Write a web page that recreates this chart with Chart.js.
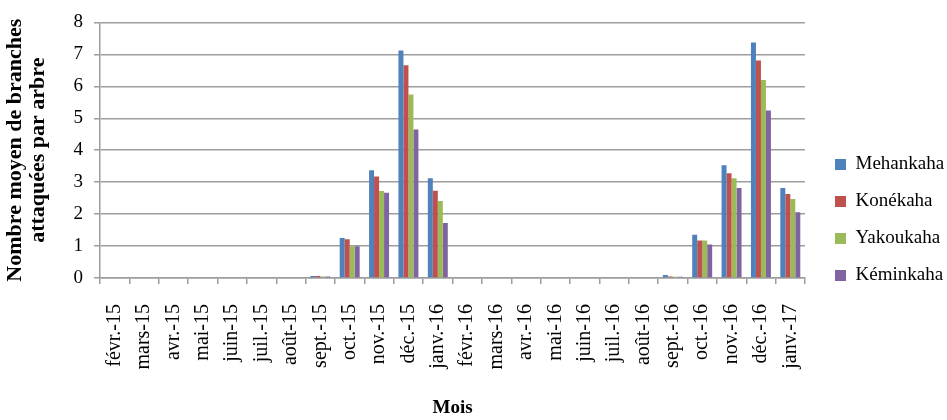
<!DOCTYPE html>
<html>
<head>
<meta charset="utf-8">
<script src="https://cdn.jsdelivr.net/npm/chart.js@4"></script>
<style>
  html, body { margin: 0; padding: 0; background: #fff; }
  #wrap { width: 947px; height: 420px; }
</style>
</head>
<body>
<div id="wrap"><canvas id="mainChart" width="947" height="420"></canvas></div>
<script>
// mois
const months = ['févr.-15', 'mars-15', 'avr.-15', 'mai-15', 'juin-15', 'juil.-15', 'août-15', 'sept.-15',
  'oct.-15', 'nov.-15', 'déc.-15', 'janv.-16', 'févr.-16', 'mars-16', 'avr.-16', 'mai-16', 'juin-16',
  'juil.-16', 'août-16', 'sept.-16', 'oct.-16', 'nov.-16', 'déc.-16', 'janv.-17'];

// nombre moyen de branches attaquées par arbre, par localité
const mehankaha = [0, 0, 0, 0, 0, 0, 0, 0.06, 1.25, 3.37, 7.12, 3.12, 0, 0, 0, 0, 0, 0, 0, 0.09, 1.35, 3.53, 7.37, 2.82];
const konekaha  = [0, 0, 0, 0, 0, 0, 0, 0.06, 1.21, 3.18, 6.66, 2.73, 0, 0, 0, 0, 0, 0, 0, 0.05, 1.17, 3.28, 6.81, 2.63];
const yakoukaha = [0, 0, 0, 0, 0, 0, 0, 0.05, 0.99, 2.72, 5.74, 2.41, 0, 0, 0, 0, 0, 0, 0, 0.04, 1.17, 3.12, 6.20, 2.47];
const keminkaha = [0, 0, 0, 0, 0, 0, 0, 0.05, 0.99, 2.67, 4.65, 1.72, 0, 0, 0, 0, 0, 0, 0, 0.04, 1.05, 2.82, 5.24, 2.06];

const yTicks = [0, 1, 2, 3, 4, 5, 6, 7, 8];

const serif = 'Liberation Serif';
const gridGrey = '#9d9d9d';

function makeSet(label, values, color) {
  return {
    label: label,
    data: values,
    backgroundColor: color,
    borderWidth: 0,
    categoryPercentage: 0.68,
    barPercentage: 1.0
  };
}

// légende à largeur fixe, un peu décalée comme dans Excel
const fixedLegend = {
  id: 'fixedLegend',
  beforeLayout(chart) {
    const lg = chart.legend;
    if (lg && !lg._fixed) {
      const fit = lg.fit.bind(lg);
      lg.fit = function () { fit(); this.width = 142; };
      lg._fixed = true;
    }
  },
  afterLayout(chart) {
    const lg = chart.legend;
    if (!lg) return;
    lg.left += 12; lg.right += 12;
    lg.top += 5; lg.bottom += 5;
  }
};

const ctx = document.getElementById('mainChart').getContext('2d');
new Chart(ctx, {
  type: 'bar',
  data: {
    labels: months,
    datasets: [
      makeSet('Mehankaha', mehankaha, '#4F81BD'),
      makeSet('Konékaha', konekaha, '#C0504D'),
      makeSet('Yakoukaha', yakoukaha, '#9BBB59'),
      makeSet('Kéminkaha', keminkaha, '#8064A2')
    ]
  },
  plugins: [fixedLegend],
  options: {
    responsive: false,
    animation: false,
    layout: { padding: { top: 10, left: 0, right: 0, bottom: 0 } },
    plugins: {
      tooltip: { enabled: false },
      legend: {
        position: 'right',
        labels: {
          color: '#000',
          font: { family: serif, size: 19 },
          boxWidth: 11,
          boxHeight: 11,
          padding: 18
        }
      }
    },
    scales: {
      x: {
        offset: true,
        afterFit: (scale) => { scale.height = 142; },
        grid: {
          offset: true,
          drawOnChartArea: false,
          drawTicks: true,
          tickLength: 6,
          color: gridGrey,
          lineWidth: 1.5
        },
        border: { color: gridGrey, width: 1.5 },
        ticks: {
          color: '#000',
          font: { family: serif, size: 20 },
          minRotation: 90,
          maxRotation: 90,
          autoSkip: false,
          padding: 20
        },
        title: {
          display: true,
          text: 'Mois',
          color: '#000',
          font: { family: serif, size: 19, weight: 'bold' },
          padding: { top: 0, bottom: 1 }
        }
      },
      y: {
        min: 0,
        max: 8,
        afterFit: (scale) => { scale.width = 100; },
        afterBuildTicks: (scale) => { scale.ticks = yTicks.map(v => ({ value: v })); },
        grid: {
          color: gridGrey,
          lineWidth: 1.5,
          drawTicks: true,
          tickLength: 6
        },
        border: { color: gridGrey, width: 1.5 },
        ticks: {
          color: '#000',
          font: { family: serif, size: 19 },
          padding: 11
        },
        title: {
          display: true,
          text: ['Nombre moyen de branches', 'attaquées par arbre'],
          color: '#000',
          font: { family: serif, size: 22, weight: 'bold', lineHeight: 1.05 },
          padding: { top: 4, bottom: 0 }
        }
      }
    }
  }
});
</script>
</body>
</html>
